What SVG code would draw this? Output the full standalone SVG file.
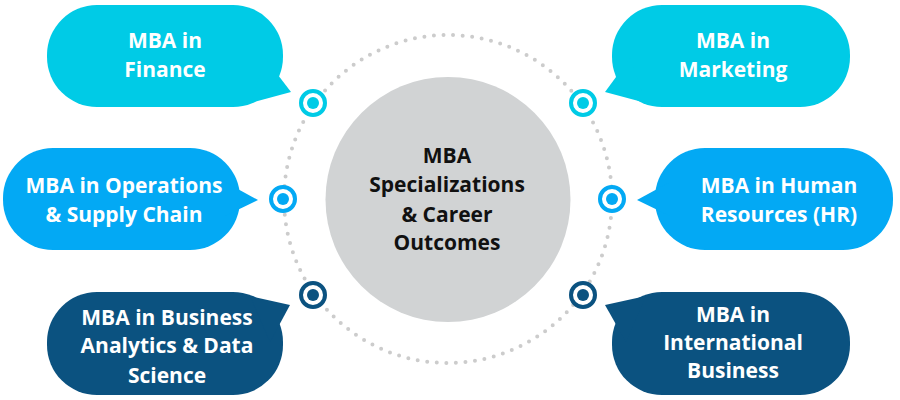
<svg xmlns="http://www.w3.org/2000/svg" width="900" height="400" viewBox="0 0 900 400">
<style>
.t{font-family:"Open Sans","Liberation Sans",sans-serif;font-weight:bold;font-size:21px;text-anchor:middle;fill:#fff}
.c{fill:#111}
.top{fill:#00CBE6}
.mid{fill:#03A9F4}
.dark{fill:#0B5280}
</style>
<rect width="900" height="400" fill="#fff"/>
<g id="connectors">
<circle cx="448" cy="199" r="164" fill="none" stroke="#CCCCCC" stroke-width="4" stroke-linecap="round" stroke-dasharray="0 9.6"/>
</g>
<g id="center">
<circle cx="448" cy="199.5" r="122.5" fill="#D1D3D4"/>
<text class="t c"><tspan x="447" y="163">MBA</tspan><tspan x="447" y="192">Specializations</tspan><tspan x="447" y="222">&amp; Career</tspan><tspan x="447" y="250">Outcomes</tspan></text>
</g>
<g id="icons">
<g fill="#fff" stroke-width="4">
<circle cx="313" cy="103" r="12" stroke="#00CBE6"/>
<circle cx="583" cy="103" r="12" stroke="#00CBE6"/>
<circle cx="283" cy="199" r="12" stroke="#03A9F4"/>
<circle cx="612" cy="199" r="12" stroke="#03A9F4"/>
<circle cx="313" cy="295" r="12" stroke="#0B5280"/>
<circle cx="583" cy="295" r="12" stroke="#0B5280"/>
</g>
<circle class="top" cx="313" cy="103" r="6"/>
<circle class="top" cx="583" cy="103" r="6"/>
<circle class="mid" cx="283" cy="199" r="6"/>
<circle class="mid" cx="612" cy="199" r="6"/>
<circle class="dark" cx="313" cy="295" r="6"/>
<circle class="dark" cx="583" cy="295" r="6"/>
</g>
<g id="finance">
<rect class="top" x="47" y="5" width="236" height="102" rx="50"/>
<polygon class="top" points="265,58 291,92 250,103"/>
<text class="t"><tspan x="165" y="48">MBA in</tspan><tspan x="165" y="77">Finance</tspan></text>
</g>
<g id="marketing">
<rect class="top" x="612" y="5" width="238" height="102" rx="50"/>
<polygon class="top" points="630,58 605,92 646,103"/>
<text class="t"><tspan x="733" y="48">MBA in</tspan><tspan x="733" y="77">Marketing</tspan></text>
</g>
<g id="operations">
<rect class="mid" x="3" y="148" width="237" height="102" rx="50"/>
<polygon class="mid" points="225,182 258,200 225,216"/>
<text class="t"><tspan x="124" y="193">MBA in Operations</tspan><tspan x="124" y="222">&amp; Supply Chain</tspan></text>
</g>
<g id="hr">
<rect class="mid" x="655" y="148" width="238" height="102" rx="50"/>
<polygon class="mid" points="670,182 637,200 670,216"/>
<text class="t"><tspan x="779" y="193">MBA in Human</tspan><tspan x="779" y="222">Resources (HR)</tspan></text>
</g>
<g id="analytics">
<rect class="dark" x="47" y="292" width="236" height="103" rx="50"/>
<polygon class="dark" points="250,296 290,305 270,342"/>
<text class="t"><tspan x="167" y="325">MBA in Business</tspan><tspan x="167" y="353">Analytics &amp; Data</tspan><tspan x="167" y="383">Science</tspan></text>
</g>
<g id="international">
<rect class="dark" x="612" y="292" width="238" height="103" rx="50"/>
<polygon class="dark" points="646,296 605,305 626,342"/>
<text class="t"><tspan x="733" y="322">MBA in</tspan><tspan x="733" y="350">International</tspan><tspan x="733" y="378">Business</tspan></text>
</g>
</svg>
